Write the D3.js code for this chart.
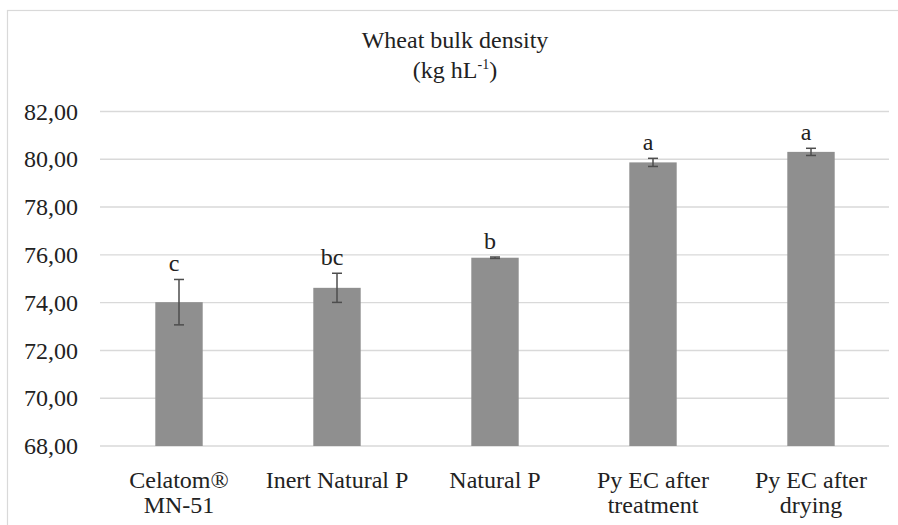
<!DOCTYPE html>
<html>
<head>
<meta charset="utf-8">
<script src="https://cdn.jsdelivr.net/npm/d3@7"></script>
<style>
  body { margin: 0; background: #fff; }
  svg { display: block; }
</style>
</head>
<body>
<svg></svg>
<script>
var categories = ["Celatom®\nMN-51", "Inert Natural P", "Natural P", "Py EC after\ntreatment", "Py EC after\ndrying"];
var means = [74.02, 74.62, 75.88, 79.87, 80.31];
var errors = [0.95, 0.61, 0.03, 0.17, 0.15];
var letters = ["c", "bc", "b", "a", "a"];
var yTicks = [68, 70, 72, 74, 76, 78, 80, 82];

var width = 898;
var height = 525;
var serif = "Liberation Serif";

var svg = d3.select("svg")
            .attr("width", width)
            .attr("height", height);

// chart border
svg.append("rect")
   .attr("x", 7.5)
   .attr("y", 10.5)
   .attr("width", 900)
   .attr("height", 530)
   .attr("fill", "#fff")
   .attr("stroke", "#d9d9d9")
   .attr("stroke-width", 1.2);

var xScale = d3.scaleBand()
               .domain(categories)
               .range([100, 890])
               .paddingInner(0.7)
               .paddingOuter(0.35);
var yScale = d3.scaleLinear()
               .domain([68, 82])
               .range([446, 111.5]);

var fmt = function(v){ return d3.format(".2f")(v).replace(".", ","); };

// gridlines
svg.append("g")
   .selectAll("line")
   .data(yTicks)
   .enter()
   .append("line")
   .attr("x1", 100)
   .attr("x2", 889)
   .attr("y1", function(d){ return yScale(d); })
   .attr("y2", function(d){ return yScale(d); })
   .attr("stroke", "#d9d9d9")
   .attr("stroke-width", 1.4);

// y axis labels
var yAxis = d3.axisLeft(yScale)
              .tickValues(yTicks)
              .tickFormat(fmt)
              .tickSize(0)
              .tickPadding(0);
var gy = svg.append("g")
            .attr("transform", "translate(78,0)")
            .call(yAxis);
gy.select(".domain").remove();
gy.selectAll("text")
  .attr("font-family", serif)
  .attr("font-size", 24)
  .attr("fill", "#222");

// bars
svg.selectAll("rect.bar")
   .data(means)
   .enter()
   .append("rect")
   .attr("class", "bar")
   .attr("x", function(d, i){ return xScale(categories[i]); })
   .attr("y", function(d){ return yScale(d); })
   .attr("width", xScale.bandwidth())
   .attr("height", function(d){ return yScale(68) - yScale(d); })
   .attr("fill", "#8f8f8f");

// error bars
var eb = svg.append("g")
            .attr("stroke", "#4d4d4d")
            .attr("stroke-width", 1.5);
means.forEach(function(m, i){
  var cx = xScale(categories[i]) + xScale.bandwidth() / 2;
  var top = yScale(m + errors[i]);
  var bot = yScale(m - errors[i]);
  eb.append("line").attr("x1", cx).attr("x2", cx).attr("y1", top).attr("y2", bot);
  eb.append("line").attr("x1", cx - 5).attr("x2", cx + 5).attr("y1", top).attr("y2", top);
  eb.append("line").attr("x1", cx - 5).attr("x2", cx + 5).attr("y1", bot).attr("y2", bot);
});

// significance letters
svg.selectAll("text.letter")
   .data(letters)
   .enter()
   .append("text")
   .attr("class", "letter")
   .attr("x", function(d, i){ return xScale(categories[i]) + xScale.bandwidth() / 2 - 5; })
   .attr("y", function(d, i){ return yScale(means[i] + errors[i]) - 8; })
   .attr("text-anchor", "middle")
   .attr("font-family", serif)
   .attr("font-size", 24)
   .attr("fill", "#222")
   .text(function(d){ return d; });

// category labels
var xl = svg.selectAll("text.cat")
            .data(categories)
            .enter()
            .append("text")
            .attr("class", "cat")
            .attr("text-anchor", "middle")
            .attr("font-family", serif)
            .attr("font-size", 24)
            .attr("fill", "#222")
            .attr("transform", function(d){
              return "translate(" + (xScale(d) + xScale.bandwidth() / 2) + ",488)";
            });
xl.each(function(d){
  var t = d3.select(this);
  d.split("\n").forEach(function(line, j){
    t.append("tspan")
     .attr("x", 0)
     .attr("y", j * 25)
     .text(line);
  });
});

// title
var title = svg.append("text")
               .attr("text-anchor", "middle")
               .attr("font-family", serif)
               .attr("font-size", 24)
               .attr("fill", "#222")
               .attr("transform", "translate(455,48)");
title.append("tspan").attr("x", 0).attr("y", 0).text("Wheat bulk density");
title.append("tspan").attr("x", 0).attr("y", 30).text("(kg hL");
title.append("tspan").attr("dy", -9).attr("font-size", 14).text("-1");
title.append("tspan").attr("dy", 9).text(")");
</script>
</body>
</html>
